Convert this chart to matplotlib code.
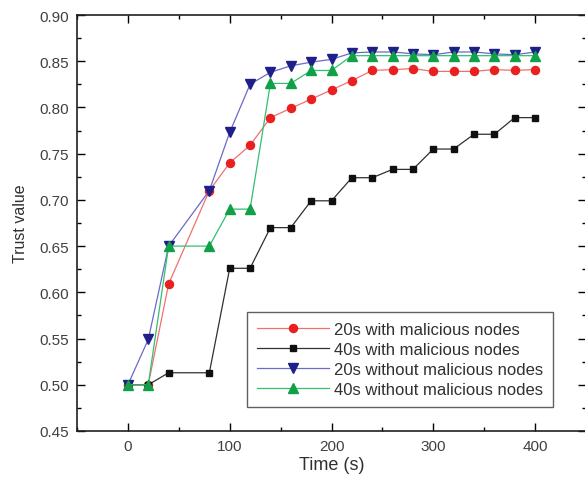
import matplotlib
matplotlib.use("Agg")
import matplotlib.pyplot as plt
from matplotlib.ticker import MultipleLocator

plt.rcParams['font.family'] = ['Liberation Sans', 'DejaVu Sans']

# time steps (s)
t = [0, 20, 40, 80, 100, 120, 140, 160, 180, 200, 220, 240, 260, 280, 300, 320, 340, 360, 380, 400]

red_20s_mal = [0.500, 0.500, 0.609, 0.710, 0.740, 0.759, 0.789, 0.799, 0.809, 0.819, 0.829, 0.840,
               0.841, 0.842, 0.839, 0.839, 0.839, 0.841, 0.840, 0.841]
black_40s_mal = [0.500, 0.500, 0.513, 0.513, 0.626, 0.626, 0.670, 0.670, 0.699, 0.699, 0.724, 0.724,
                 0.733, 0.733, 0.755, 0.755, 0.771, 0.771, 0.789, 0.789]
blue_20s_nomal = [0.500, 0.549, 0.650, 0.710, 0.773, 0.825, 0.838, 0.845, 0.849, 0.852, 0.859, 0.860,
                  0.860, 0.858, 0.857, 0.860, 0.860, 0.858, 0.857, 0.860]
green_40s_nomal = [0.500, 0.500, 0.650, 0.650, 0.690, 0.690, 0.826, 0.826, 0.840, 0.840, 0.856, 0.856,
                   0.856, 0.856, 0.856, 0.856, 0.856, 0.856, 0.856, 0.856]

labels = ['20s with malicious nodes', '40s with malicious nodes',
          '20s without malicious nodes', '40s without malicious nodes']

fig = plt.figure(figsize=(5.85, 4.89), dpi=100)
ax = fig.add_axes([77 / 585, 1 - 432 / 489, 509 / 585, 416 / 489])

# line colour, marker face colour, marker
ax.plot(t, red_20s_mal, color='#f07070', lw=0.9, marker='o', ms=5.8,
        mfc='#e82020', mec='#e82020', label=labels[0])
ax.plot(t, black_40s_mal, color='#303030', lw=0.9, marker='s', ms=4.6,
        mfc='#101010', mec='#101010', label=labels[1])
ax.plot(t, blue_20s_nomal, color='#6a6ac8', lw=0.9, marker='v', ms=6.8,
        mfc='#1f1f8a', mec='#1f1f8a', label=labels[2])
ax.plot(t, green_40s_nomal, color='#30c070', lw=0.9, marker='^', ms=6.8,
        mfc='#10a048', mec='#10a048', label=labels[3])

ax.set_xlim(-50, 450)
ax.set_ylim(0.45, 0.90)
ax.xaxis.set_major_locator(MultipleLocator(100))
ax.xaxis.set_minor_locator(MultipleLocator(50))
ax.yaxis.set_minor_locator(MultipleLocator(0.025))
ax.set_yticks([0.45, 0.50, 0.55, 0.60, 0.65, 0.70, 0.75, 0.80, 0.85, 0.90])
ax.set_yticklabels(['0.45', '0.50', '0.55', '0.60', '0.65', '0.70', '0.75', '0.80', '0.85', '0.90'])
ax.tick_params(which='both', direction='in', top=True, right=True, labelsize=11,
               labelcolor='#404040', width=1.0)
ax.tick_params(which='major', length=6, pad=6)
ax.tick_params(which='minor', length=3)
for s in ax.spines.values():
    s.set_linewidth(1.2)
    s.set_color('#202020')

ax.set_xlabel('Time (s)', fontsize=13, color='#303030', labelpad=2)
ax.set_ylabel('Trust value', fontsize=11.5, color='#303030', labelpad=8)

leg = ax.legend(loc='lower right', bbox_to_anchor=(0.935, 0.058), borderaxespad=0, fontsize=12,
                handlelength=4.3, handletextpad=0.3, borderpad=0.6, labelspacing=0.3,
                fancybox=False, framealpha=1, edgecolor='#606060')
leg.get_frame().set_linewidth(1.0)
for txt in leg.get_texts():
    txt.set_color('#303030')

fig.savefig('out.png', dpi=100)
